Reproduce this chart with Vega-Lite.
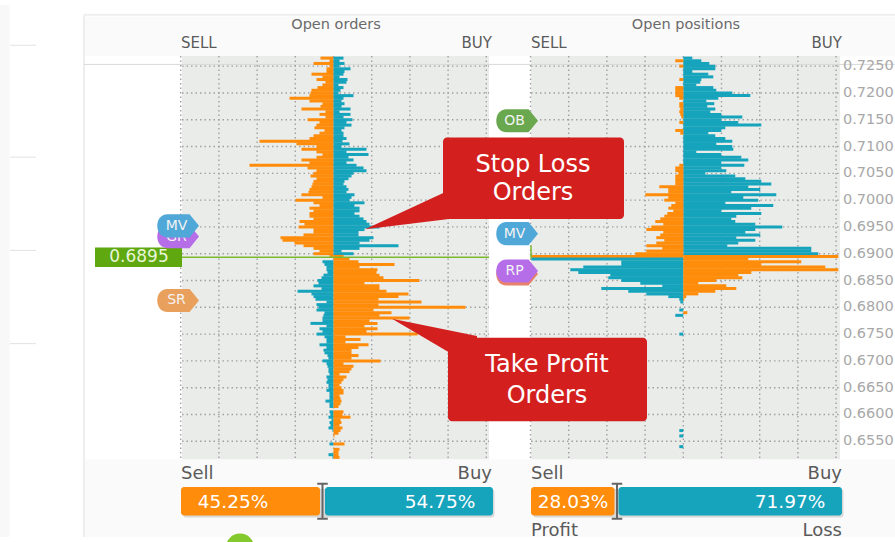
{"$schema":"https://vega.github.io/schema/vega-lite/v6.json","width":895,"height":542,"autosize":{"type":"none"},"padding":0,"background":"#ffffff","config":{"view":{"stroke":null},"axis":{"disable":true},"text":{"font":"DejaVu Sans"}},
"data":{"values":[{"note":"frame"}]},
"datasets":{
"levels":[{"price":0.725,"label":"0.7250"},{"price":0.72,"label":"0.7200"},{"price":0.715,"label":"0.7150"},{"price":0.71,"label":"0.7100"},{"price":0.705,"label":"0.7050"},{"price":0.7,"label":"0.7000"},{"price":0.695,"label":"0.6950"},{"price":0.69,"label":"0.6900"},{"price":0.685,"label":"0.6850"},{"price":0.68,"label":"0.6800"},{"price":0.675,"label":"0.6750"},{"price":0.67,"label":"0.6700"},{"price":0.665,"label":"0.6650"},{"price":0.66,"label":"0.6600"},{"price":0.655,"label":"0.6550"}],
"ticks":[{"lots":-152.8},{"lots":-114.6},{"lots":-76.4},{"lots":-38.2},{"lots":0},{"lots":38.2},{"lots":76.4},{"lots":114.6},{"lots":152.8}],
"orders":[
{"price":0.7265,"lots":-13,"type":"profit"},{"price":0.7265,"lots":10,"type":"loss"},{"price":0.726,"lots":-4,"type":"profit"},{"price":0.726,"lots":6,"type":"loss"},{"price":0.7255,"lots":-20,"type":"profit"},{"price":0.7255,"lots":11,"type":"loss"},{"price":0.725,"lots":-4,"type":"profit"},{"price":0.725,"lots":6,"type":"loss"},{"price":0.7245,"lots":-7,"type":"profit"},{"price":0.7245,"lots":17,"type":"loss"},{"price":0.724,"lots":-7,"type":"profit"},{"price":0.724,"lots":11,"type":"loss"},{"price":0.7235,"lots":-22,"type":"profit"},{"price":0.7235,"lots":10,"type":"loss"},{"price":0.723,"lots":-11,"type":"profit"},{"price":0.723,"lots":6,"type":"loss"},{"price":0.7225,"lots":-17,"type":"profit"},{"price":0.7225,"lots":14,"type":"loss"},{"price":0.722,"lots":-8,"type":"profit"},{"price":0.722,"lots":13,"type":"loss"},{"price":0.7215,"lots":-11,"type":"profit"},{"price":0.7215,"lots":5,"type":"loss"},{"price":0.721,"lots":-16,"type":"profit"},{"price":0.721,"lots":10,"type":"loss"},{"price":0.7205,"lots":-22,"type":"profit"},{"price":0.7205,"lots":7,"type":"loss"},{"price":0.72,"lots":-23,"type":"profit"},{"price":0.72,"lots":5,"type":"loss"},{"price":0.7195,"lots":-24,"type":"profit"},{"price":0.7195,"lots":20,"type":"loss"},{"price":0.719,"lots":-44,"type":"profit"},{"price":0.719,"lots":10,"type":"loss"},{"price":0.7185,"lots":-24,"type":"profit"},{"price":0.7185,"lots":8,"type":"loss"},{"price":0.718,"lots":-11,"type":"profit"},{"price":0.718,"lots":11,"type":"loss"},{"price":0.7175,"lots":-13,"type":"profit"},{"price":0.7175,"lots":8,"type":"loss"},{"price":0.717,"lots":-32,"type":"profit"},{"price":0.717,"lots":17,"type":"loss"},{"price":0.7165,"lots":-8,"type":"profit"},{"price":0.7165,"lots":6,"type":"loss"},{"price":0.716,"lots":-14,"type":"profit"},{"price":0.716,"lots":17,"type":"loss"},{"price":0.7155,"lots":-8,"type":"profit"},{"price":0.7155,"lots":10,"type":"loss"},{"price":0.715,"lots":-26,"type":"profit"},{"price":0.715,"lots":19,"type":"loss"},{"price":0.7145,"lots":-14,"type":"profit"},{"price":0.7145,"lots":13,"type":"loss"},{"price":0.714,"lots":-17,"type":"profit"},{"price":0.714,"lots":18,"type":"loss"},{"price":0.7135,"lots":-19,"type":"profit"},{"price":0.7135,"lots":11,"type":"loss"},{"price":0.713,"lots":-9,"type":"profit"},{"price":0.713,"lots":8,"type":"loss"},{"price":0.7125,"lots":-14,"type":"profit"},{"price":0.7125,"lots":10,"type":"loss"},{"price":0.712,"lots":-20,"type":"profit"},{"price":0.712,"lots":10,"type":"loss"},{"price":0.7115,"lots":-24,"type":"profit"},{"price":0.7115,"lots":13,"type":"loss"},{"price":0.711,"lots":-74,"type":"profit"},{"price":0.711,"lots":9,"type":"loss"},{"price":0.7105,"lots":-37,"type":"profit"},{"price":0.7105,"lots":16,"type":"loss"},{"price":0.71,"lots":-17,"type":"profit"},{"price":0.71,"lots":8,"type":"loss"},{"price":0.7095,"lots":-32,"type":"profit"},{"price":0.7095,"lots":33,"type":"loss"},{"price":0.709,"lots":-17,"type":"profit"},{"price":0.709,"lots":13,"type":"loss"},{"price":0.7085,"lots":-11,"type":"profit"},{"price":0.7085,"lots":35,"type":"loss"},{"price":0.708,"lots":-17,"type":"profit"},{"price":0.708,"lots":15,"type":"loss"},{"price":0.7075,"lots":-32,"type":"profit"},{"price":0.7075,"lots":20,"type":"loss"},{"price":0.707,"lots":-24,"type":"profit"},{"price":0.707,"lots":13,"type":"loss"},{"price":0.7065,"lots":-84,"type":"profit"},{"price":0.7065,"lots":23,"type":"loss"},{"price":0.706,"lots":-26,"type":"profit"},{"price":0.706,"lots":30,"type":"loss"},{"price":0.7055,"lots":-17,"type":"profit"},{"price":0.7055,"lots":33,"type":"loss"},{"price":0.705,"lots":-20,"type":"profit"},{"price":0.705,"lots":20,"type":"loss"},{"price":0.7045,"lots":-23,"type":"profit"},{"price":0.7045,"lots":18,"type":"loss"},{"price":0.704,"lots":-17,"type":"profit"},{"price":0.704,"lots":15,"type":"loss"},{"price":0.7035,"lots":-20,"type":"profit"},{"price":0.7035,"lots":11,"type":"loss"},{"price":0.703,"lots":-21,"type":"profit"},{"price":0.703,"lots":10,"type":"loss"},{"price":0.7025,"lots":-22,"type":"profit"},{"price":0.7025,"lots":13,"type":"loss"},{"price":0.702,"lots":-24,"type":"profit"},{"price":0.702,"lots":15,"type":"loss"},{"price":0.7015,"lots":-25,"type":"profit"},{"price":0.7015,"lots":13,"type":"loss"},{"price":0.701,"lots":-32,"type":"profit"},{"price":0.701,"lots":21,"type":"loss"},{"price":0.7005,"lots":-11,"type":"profit"},{"price":0.7005,"lots":18,"type":"loss"},{"price":0.7,"lots":-38,"type":"profit"},{"price":0.7,"lots":16,"type":"loss"},{"price":0.6995,"lots":-20,"type":"profit"},{"price":0.6995,"lots":31,"type":"loss"},{"price":0.699,"lots":-14,"type":"profit"},{"price":0.699,"lots":21,"type":"loss"},{"price":0.6985,"lots":-24,"type":"profit"},{"price":0.6985,"lots":26,"type":"loss"},{"price":0.698,"lots":-20,"type":"profit"},{"price":0.698,"lots":26,"type":"loss"},{"price":0.6975,"lots":-24,"type":"profit"},{"price":0.6975,"lots":21,"type":"loss"},{"price":0.697,"lots":-24,"type":"profit"},{"price":0.697,"lots":26,"type":"loss"},{"price":0.6965,"lots":-20,"type":"profit"},{"price":0.6965,"lots":30,"type":"loss"},{"price":0.696,"lots":-34,"type":"profit"},{"price":0.696,"lots":33,"type":"loss"},{"price":0.6955,"lots":-29,"type":"profit"},{"price":0.6955,"lots":36,"type":"loss"},{"price":0.695,"lots":-35,"type":"profit"},{"price":0.695,"lots":46,"type":"loss"},{"price":0.6945,"lots":-20,"type":"profit"},{"price":0.6945,"lots":31,"type":"loss"},{"price":0.694,"lots":-20,"type":"profit"},{"price":0.694,"lots":25,"type":"loss"},{"price":0.6935,"lots":-30,"type":"profit"},{"price":0.6935,"lots":25,"type":"loss"},{"price":0.693,"lots":-53,"type":"profit"},{"price":0.693,"lots":40,"type":"loss"},{"price":0.6925,"lots":-51,"type":"profit"},{"price":0.6925,"lots":36,"type":"loss"},{"price":0.692,"lots":-39,"type":"profit"},{"price":0.692,"lots":26,"type":"loss"},{"price":0.6915,"lots":-30,"type":"profit"},{"price":0.6915,"lots":65,"type":"loss"},{"price":0.691,"lots":-20,"type":"profit"},{"price":0.691,"lots":26,"type":"loss"},{"price":0.6905,"lots":-14,"type":"profit"},{"price":0.6905,"lots":8,"type":"loss"},{"price":0.69,"lots":-20,"type":"profit"},{"price":0.69,"lots":20,"type":"loss"},{"price":0.6895,"lots":-4,"type":"profit"},{"price":0.6895,"lots":10,"type":"profit"},
{"price":0.689,"lots":16,"type":"profit"},{"price":0.6885,"lots":-11,"type":"loss"},{"price":0.6885,"lots":25,"type":"profit"},{"price":0.688,"lots":-9,"type":"loss"},{"price":0.688,"lots":61,"type":"profit"},{"price":0.6875,"lots":-7,"type":"loss"},{"price":0.6875,"lots":26,"type":"profit"},{"price":0.687,"lots":-7,"type":"loss"},{"price":0.687,"lots":44,"type":"profit"},{"price":0.6865,"lots":-6,"type":"loss"},{"price":0.6865,"lots":43,"type":"profit"},{"price":0.686,"lots":-10,"type":"loss"},{"price":0.686,"lots":46,"type":"profit"},{"price":0.6855,"lots":-12,"type":"loss"},{"price":0.6855,"lots":50,"type":"profit"},{"price":0.685,"lots":-16,"type":"loss"},{"price":0.685,"lots":86,"type":"profit"},{"price":0.6845,"lots":-15,"type":"loss"},{"price":0.6845,"lots":31,"type":"profit"},{"price":0.684,"lots":-20,"type":"loss"},{"price":0.684,"lots":46,"type":"profit"},{"price":0.6835,"lots":-12,"type":"loss"},{"price":0.6835,"lots":46,"type":"profit"},{"price":0.683,"lots":-36,"type":"loss"},{"price":0.683,"lots":53,"type":"profit"},{"price":0.6825,"lots":-22,"type":"loss"},{"price":0.6825,"lots":75,"type":"profit"},{"price":0.682,"lots":-20,"type":"loss"},{"price":0.682,"lots":65,"type":"profit"},{"price":0.6815,"lots":-18,"type":"loss"},{"price":0.6815,"lots":45,"type":"profit"},{"price":0.681,"lots":-7,"type":"loss"},{"price":0.681,"lots":88,"type":"profit"},{"price":0.6805,"lots":-17,"type":"loss"},{"price":0.6805,"lots":45,"type":"profit"},{"price":0.68,"lots":-15,"type":"loss"},{"price":0.68,"lots":132,"type":"profit"},{"price":0.6795,"lots":-17,"type":"loss"},{"price":0.6795,"lots":40,"type":"profit"},{"price":0.679,"lots":-9,"type":"loss"},{"price":0.679,"lots":58,"type":"profit"},{"price":0.6785,"lots":-10,"type":"loss"},{"price":0.6785,"lots":46,"type":"profit"},{"price":0.678,"lots":-11,"type":"loss"},{"price":0.678,"lots":76,"type":"profit"},{"price":0.6775,"lots":-11,"type":"loss"},{"price":0.6775,"lots":36,"type":"profit"},{"price":0.677,"lots":-23,"type":"loss"},{"price":0.677,"lots":44,"type":"profit"},{"price":0.6765,"lots":-7,"type":"loss"},{"price":0.6765,"lots":31,"type":"profit"},{"price":0.676,"lots":-14,"type":"loss"},{"price":0.676,"lots":44,"type":"profit"},{"price":0.6755,"lots":-11,"type":"loss"},{"price":0.6755,"lots":33,"type":"profit"},{"price":0.675,"lots":-17,"type":"loss"},{"price":0.675,"lots":84,"type":"profit"},{"price":0.6745,"lots":-9,"type":"loss"},{"price":0.6745,"lots":12,"type":"profit"},{"price":0.674,"lots":-7,"type":"loss"},{"price":0.674,"lots":27,"type":"profit"},{"price":0.6735,"lots":-7,"type":"loss"},{"price":0.6735,"lots":12,"type":"profit"},{"price":0.673,"lots":-14,"type":"loss"},{"price":0.673,"lots":35,"type":"profit"},{"price":0.6725,"lots":-7,"type":"loss"},{"price":0.6725,"lots":25,"type":"profit"},{"price":0.672,"lots":-10,"type":"loss"},{"price":0.672,"lots":18,"type":"profit"},{"price":0.6715,"lots":-9,"type":"loss"},{"price":0.6715,"lots":18,"type":"profit"},{"price":0.671,"lots":-6,"type":"loss"},{"price":0.671,"lots":25,"type":"profit"},{"price":0.6705,"lots":-5,"type":"loss"},{"price":0.6705,"lots":18,"type":"profit"},{"price":0.67,"lots":-11,"type":"loss"},{"price":0.67,"lots":47,"type":"profit"},{"price":0.6695,"lots":-7,"type":"loss"},{"price":0.6695,"lots":10,"type":"profit"},{"price":0.669,"lots":-6,"type":"loss"},{"price":0.669,"lots":20,"type":"profit"},{"price":0.6685,"lots":-5,"type":"loss"},{"price":0.6685,"lots":18,"type":"profit"},{"price":0.668,"lots":-5,"type":"loss"},{"price":0.668,"lots":16,"type":"profit"},{"price":0.6675,"lots":-4,"type":"loss"},{"price":0.6675,"lots":6,"type":"profit"},{"price":0.667,"lots":-7,"type":"loss"},{"price":0.667,"lots":13,"type":"profit"},{"price":0.6665,"lots":-6,"type":"loss"},{"price":0.6665,"lots":10,"type":"profit"},{"price":0.666,"lots":-7,"type":"loss"},{"price":0.666,"lots":8,"type":"profit"},{"price":0.6655,"lots":-5,"type":"loss"},{"price":0.6655,"lots":6,"type":"profit"},{"price":0.665,"lots":-5,"type":"loss"},{"price":0.665,"lots":8,"type":"profit"},{"price":0.6645,"lots":-7,"type":"loss"},{"price":0.6645,"lots":10,"type":"profit"},{"price":0.664,"lots":-4,"type":"loss"},{"price":0.664,"lots":10,"type":"profit"},{"price":0.6635,"lots":-4,"type":"loss"},{"price":0.6635,"lots":6,"type":"profit"},{"price":0.663,"lots":-4,"type":"loss"},{"price":0.663,"lots":7,"type":"profit"},{"price":0.6625,"lots":-8,"type":"loss"},{"price":0.6625,"lots":8,"type":"profit"},{"price":0.662,"lots":-4,"type":"loss"},{"price":0.662,"lots":7,"type":"profit"},{"price":0.6615,"lots":-4,"type":"loss"},{"price":0.6615,"lots":5,"type":"profit"},{"price":0.6605,"lots":-4,"type":"loss"},{"price":0.6605,"lots":10,"type":"profit"},{"price":0.66,"lots":-3,"type":"loss"},{"price":0.66,"lots":9,"type":"profit"},{"price":0.6595,"lots":-5,"type":"loss"},{"price":0.6595,"lots":17,"type":"profit"},{"price":0.659,"lots":-2,"type":"loss"},{"price":0.659,"lots":7,"type":"profit"},{"price":0.6585,"lots":-4,"type":"loss"},{"price":0.6585,"lots":8,"type":"profit"},{"price":0.658,"lots":-3,"type":"loss"},{"price":0.658,"lots":6,"type":"profit"},{"price":0.6575,"lots":-5,"type":"loss"},{"price":0.6575,"lots":9,"type":"profit"},{"price":0.657,"lots":-1,"type":"loss"},{"price":0.657,"lots":7,"type":"profit"},{"price":0.6565,"lots":5,"type":"profit"},{"price":0.656,"lots":1,"type":"profit"},{"price":0.6545,"lots":-4,"type":"loss"},{"price":0.6545,"lots":11,"type":"profit"},{"price":0.6535,"lots":6,"type":"profit"},{"price":0.653,"lots":5,"type":"profit"},{"price":0.6525,"lots":-5,"type":"loss"},{"price":0.6525,"lots":5,"type":"profit"},{"price":0.652,"lots":-1,"type":"loss"},{"price":0.652,"lots":6,"type":"profit"}],
"positions":[
{"price":0.7265,"lots":9,"type":"loss"},{"price":0.726,"lots":18,"type":"loss"},{"price":0.7255,"lots":26,"type":"loss"},{"price":0.725,"lots":32,"type":"loss"},{"price":0.7245,"lots":32,"type":"loss"},{"price":0.724,"lots":9,"type":"loss"},{"price":0.7235,"lots":25,"type":"loss"},{"price":0.723,"lots":30,"type":"loss"},{"price":0.7225,"lots":18,"type":"loss"},{"price":0.722,"lots":17,"type":"loss"},{"price":0.7215,"lots":13,"type":"loss"},{"price":0.721,"lots":30,"type":"loss"},{"price":0.7205,"lots":33,"type":"loss"},{"price":0.72,"lots":49,"type":"loss"},{"price":0.7195,"lots":67,"type":"loss"},{"price":0.719,"lots":35,"type":"loss"},{"price":0.7185,"lots":23,"type":"loss"},{"price":0.718,"lots":31,"type":"loss"},{"price":0.7175,"lots":24,"type":"loss"},{"price":0.717,"lots":32,"type":"loss"},{"price":0.7165,"lots":27,"type":"loss"},{"price":0.716,"lots":38,"type":"loss"},{"price":0.7155,"lots":59,"type":"loss"},{"price":0.715,"lots":38,"type":"loss"},{"price":0.7145,"lots":55,"type":"loss"},{"price":0.714,"lots":78,"type":"loss"},{"price":0.7135,"lots":42,"type":"loss"},{"price":0.713,"lots":38,"type":"loss"},{"price":0.7125,"lots":25,"type":"loss"},{"price":0.712,"lots":32,"type":"loss"},{"price":0.7115,"lots":42,"type":"loss"},{"price":0.711,"lots":49,"type":"loss"},{"price":0.7105,"lots":33,"type":"loss"},{"price":0.71,"lots":49,"type":"loss"},{"price":0.7095,"lots":50,"type":"loss"},{"price":0.709,"lots":13,"type":"loss"},{"price":0.7085,"lots":38,"type":"loss"},{"price":0.708,"lots":58,"type":"loss"},{"price":0.7075,"lots":65,"type":"loss"},{"price":0.707,"lots":38,"type":"loss"},{"price":0.7065,"lots":61,"type":"loss"},{"price":0.706,"lots":38,"type":"loss"},{"price":0.7055,"lots":43,"type":"loss"},{"price":0.705,"lots":22,"type":"loss"},{"price":0.7045,"lots":52,"type":"loss"},{"price":0.704,"lots":62,"type":"loss"},{"price":0.7035,"lots":78,"type":"loss"},{"price":0.703,"lots":88,"type":"loss"},{"price":0.7025,"lots":65,"type":"loss"},{"price":0.702,"lots":77,"type":"loss"},{"price":0.7015,"lots":48,"type":"loss"},{"price":0.701,"lots":93,"type":"loss"},{"price":0.7005,"lots":60,"type":"loss"},{"price":0.7,"lots":75,"type":"loss"},{"price":0.6995,"lots":42,"type":"loss"},{"price":0.699,"lots":90,"type":"loss"},{"price":0.6985,"lots":68,"type":"loss"},{"price":0.698,"lots":38,"type":"loss"},{"price":0.6975,"lots":78,"type":"loss"},{"price":0.697,"lots":53,"type":"loss"},{"price":0.6965,"lots":48,"type":"loss"},{"price":0.696,"lots":52,"type":"loss"},{"price":0.6955,"lots":72,"type":"loss"},{"price":0.695,"lots":99,"type":"loss"},{"price":0.6945,"lots":72,"type":"loss"},{"price":0.694,"lots":62,"type":"loss"},{"price":0.6935,"lots":77,"type":"loss"},{"price":0.693,"lots":53,"type":"loss"},{"price":0.6925,"lots":72,"type":"loss"},{"price":0.692,"lots":55,"type":"loss"},{"price":0.6915,"lots":44,"type":"loss"},{"price":0.691,"lots":128,"type":"loss"},{"price":0.6905,"lots":128,"type":"loss"},{"price":0.69,"lots":135,"type":"loss"},
{"price":0.726,"lots":-8,"type":"profit"},{"price":0.725,"lots":-4,"type":"profit"},{"price":0.7225,"lots":-4,"type":"profit"},{"price":0.721,"lots":-8,"type":"profit"},{"price":0.7205,"lots":-8,"type":"profit"},{"price":0.72,"lots":-8,"type":"profit"},{"price":0.7195,"lots":-8,"type":"profit"},{"price":0.719,"lots":-4,"type":"profit"},{"price":0.718,"lots":-4,"type":"profit"},{"price":0.7175,"lots":-4,"type":"profit"},{"price":0.717,"lots":-3,"type":"profit"},{"price":0.7165,"lots":-4,"type":"profit"},{"price":0.716,"lots":-3,"type":"profit"},{"price":0.7155,"lots":-2,"type":"profit"},{"price":0.7145,"lots":-4,"type":"profit"},{"price":0.713,"lots":-8,"type":"profit"},{"price":0.7125,"lots":-3,"type":"profit"},{"price":0.7065,"lots":-4,"type":"profit"},{"price":0.706,"lots":-8,"type":"profit"},{"price":0.7055,"lots":-8,"type":"profit"},{"price":0.705,"lots":-5,"type":"profit"},{"price":0.7045,"lots":-8,"type":"profit"},{"price":0.704,"lots":-8,"type":"profit"},{"price":0.7035,"lots":-8,"type":"profit"},{"price":0.703,"lots":-8,"type":"profit"},{"price":0.7025,"lots":-24,"type":"profit"},{"price":0.702,"lots":-15,"type":"profit"},{"price":0.7015,"lots":-15,"type":"profit"},{"price":0.701,"lots":-38,"type":"profit"},{"price":0.7005,"lots":-15,"type":"profit"},{"price":0.7,"lots":-19,"type":"profit"},{"price":0.6995,"lots":-8,"type":"profit"},{"price":0.699,"lots":-12,"type":"profit"},{"price":0.6985,"lots":-15,"type":"profit"},{"price":0.698,"lots":-10,"type":"profit"},{"price":0.6975,"lots":-16,"type":"profit"},{"price":0.697,"lots":-19,"type":"profit"},{"price":0.6965,"lots":-23,"type":"profit"},{"price":0.696,"lots":-28,"type":"profit"},{"price":0.6955,"lots":-20,"type":"profit"},{"price":0.695,"lots":-32,"type":"profit"},{"price":0.6945,"lots":-37,"type":"profit"},{"price":0.694,"lots":-20,"type":"profit"},{"price":0.6935,"lots":-23,"type":"profit"},{"price":0.693,"lots":-27,"type":"profit"},{"price":0.6925,"lots":-19,"type":"profit"},{"price":0.692,"lots":-27,"type":"profit"},{"price":0.6915,"lots":-37,"type":"profit"},{"price":0.691,"lots":-21,"type":"profit"},{"price":0.6905,"lots":-37,"type":"profit"},{"price":0.69,"lots":-48,"type":"profit"},{"price":0.6895,"lots":-152,"type":"profit"},{"price":0.6895,"lots":155,"type":"profit"},
{"price":0.689,"lots":-152,"type":"loss"},{"price":0.689,"lots":65,"type":"profit"},{"price":0.6885,"lots":-62,"type":"loss"},{"price":0.6885,"lots":118,"type":"profit"},{"price":0.688,"lots":-62,"type":"loss"},{"price":0.688,"lots":78,"type":"profit"},{"price":0.6875,"lots":-100,"type":"loss"},{"price":0.6875,"lots":142,"type":"profit"},{"price":0.687,"lots":-113,"type":"loss"},{"price":0.687,"lots":155,"type":"profit"},{"price":0.6865,"lots":-105,"type":"loss"},{"price":0.6865,"lots":68,"type":"profit"},{"price":0.686,"lots":-73,"type":"loss"},{"price":0.686,"lots":55,"type":"profit"},{"price":0.6855,"lots":-75,"type":"loss"},{"price":0.6855,"lots":59,"type":"profit"},{"price":0.685,"lots":-62,"type":"loss"},{"price":0.685,"lots":33,"type":"profit"},{"price":0.6845,"lots":-43,"type":"loss"},{"price":0.6845,"lots":15,"type":"profit"},{"price":0.684,"lots":-21,"type":"loss"},{"price":0.684,"lots":43,"type":"profit"},{"price":0.6835,"lots":-82,"type":"loss"},{"price":0.6835,"lots":53,"type":"profit"},{"price":0.683,"lots":-55,"type":"loss"},{"price":0.683,"lots":32,"type":"profit"},{"price":0.6825,"lots":-37,"type":"loss"},{"price":0.6825,"lots":15,"type":"profit"},{"price":0.682,"lots":-15,"type":"loss"},{"price":0.682,"lots":3,"type":"profit"},{"price":0.6815,"lots":-4,"type":"loss"},{"price":0.6815,"lots":1,"type":"profit"},{"price":0.681,"lots":-3,"type":"loss"},{"price":0.6795,"lots":-4,"type":"loss"},{"price":0.679,"lots":4,"type":"profit"},{"price":0.6785,"lots":-8,"type":"loss"},{"price":0.675,"lots":-4,"type":"loss"},{"price":0.657,"lots":-4,"type":"loss"},{"price":0.656,"lots":-4,"type":"loss"},{"price":0.654,"lots":-4,"type":"loss"}]
},
"resolve":{"scale":{"x":"independent"}},
"layer":[
{"layer":[
{"mark":{"type":"rect","color":"#ffffff"},"encoding":{"x":{"datum":-249.5,"type":"quantitative","scale":{"domain":[-333.5,561.5],"nice":false,"zero":false}},"x2":{"datum":561.5},"y":{"datum":0.73458,"type":"quantitative","scale":{"domain":[0.63714,0.73641],"nice":false,"zero":false}},"y2":{"datum":0.63714}}},
{"mark":{"type":"rect","color":"#f8f8f8"},"encoding":{"x":{"datum":-333.5,"type":"quantitative"},"x2":{"datum":-324},"y":{"datum":0.73641,"type":"quantitative"},"y2":{"datum":0.63714}}},
{"mark":{"type":"rect","color":"#eeeeee"},"encoding":{"x":{"datum":-250.5,"type":"quantitative"},"x2":{"datum":-248.5},"y":{"datum":0.73458,"type":"quantitative"},"y2":{"datum":0.63714}}},
{"mark":{"type":"rule","color":"#eeeeee","strokeWidth":2},"encoding":{"x":{"datum":-249.5,"type":"quantitative"},"x2":{"datum":561.5},"y":{"datum":0.73458,"type":"quantitative"}}},
{"mark":{"type":"rule","color":"#e2e2e2"},"encoding":{"x":{"datum":-323.5,"type":"quantitative"},"x2":{"datum":-297.5},"y":{"datum":0.7289,"type":"quantitative"}}},
{"mark":{"type":"rule","color":"#e2e2e2"},"encoding":{"x":{"datum":-323.5,"type":"quantitative"},"x2":{"datum":-297.5},"y":{"datum":0.70802,"type":"quantitative"}}},
{"mark":{"type":"rule","color":"#e2e2e2"},"encoding":{"x":{"datum":-323.5,"type":"quantitative"},"x2":{"datum":-297.5},"y":{"datum":0.69062,"type":"quantitative"}}},
{"mark":{"type":"rule","color":"#e2e2e2"},"encoding":{"x":{"datum":-323.5,"type":"quantitative"},"x2":{"datum":-297.5},"y":{"datum":0.67322,"type":"quantitative"}}},
{"mark":{"type":"rect","color":"#eaecea"},"encoding":{"x":{"datum":-151.5,"type":"quantitative"},"x2":{"datum":155.5},"y":{"datum":0.72689,"type":"quantitative"},"y2":{"datum":0.65161}}},
{"mark":{"type":"rect","color":"#eaecea"},"encoding":{"x":{"datum":197.5,"type":"quantitative"},"x2":{"datum":506.5},"y":{"datum":0.72689,"type":"quantitative"},"y2":{"datum":0.65161}}},
{"mark":{"type":"rule","color":"#d8d8d8"},"encoding":{"x":{"datum":-249.5,"type":"quantitative"},"x2":{"datum":561.5},"y":{"datum":0.72533,"type":"quantitative"}}},
{"data":{"name":"ticks"},"mark":{"type":"rule","color":"#a0a0a0","strokeWidth":1.4,"strokeDash":[1.5,3]},"encoding":{"x":{"field":"lots","type":"quantitative"},"y":{"datum":0.72689,"type":"quantitative"},"y2":{"datum":0.65161}}},
{"data":{"name":"levels"},"mark":{"type":"rule","color":"#a0a0a0","strokeWidth":1.4,"strokeDash":[1.5,3]},"encoding":{"y":{"field":"price","type":"quantitative"},"x":{"datum":-151.5,"type":"quantitative"},"x2":{"datum":155.5}}},
{"data":{"name":"orders"},"mark":{"type":"bar","orient":"horizontal","size":3},"encoding":{"y":{"field":"price","type":"quantitative"},"x":{"field":"lots","type":"quantitative","stack":null},"color":{"field":"type","type":"nominal","legend":null,"scale":{"domain":["profit","loss"],"range":["#ff8c0a","#16a3bc"]}}}},
{"mark":{"type":"rule","color":"#7cb82f","strokeWidth":1.5},"encoding":{"x":{"datum":-151.5,"type":"quantitative"},"x2":{"datum":155.5},"y":{"datum":0.68934,"type":"quantitative"}}}
]},
{"layer":[
{"data":{"name":"ticks"},"mark":{"type":"rule","color":"#a0a0a0","strokeWidth":1.4,"strokeDash":[1.5,3]},"encoding":{"x":{"field":"lots","type":"quantitative","scale":{"domain":[-683.3,211.7],"nice":false,"zero":false}},"y":{"datum":0.72689,"type":"quantitative"},"y2":{"datum":0.65161}}},
{"data":{"name":"levels"},"mark":{"type":"rule","color":"#a0a0a0","strokeWidth":1.4,"strokeDash":[1.5,3]},"encoding":{"y":{"field":"price","type":"quantitative"},"x":{"datum":-152.3,"type":"quantitative"},"x2":{"datum":156.7}}},
{"data":{"name":"positions"},"mark":{"type":"bar","orient":"horizontal","size":3},"encoding":{"y":{"field":"price","type":"quantitative"},"x":{"field":"lots","type":"quantitative","stack":null},"color":{"field":"type","type":"nominal","legend":null,"scale":{"domain":["profit","loss"],"range":["#ff8c0a","#16a3bc"]}}}},
{"mark":{"type":"rule","color":"#7cb82f","strokeWidth":1.5},"encoding":{"x":{"datum":-152.3,"type":"quantitative"},"y":{"datum":0.69154,"type":"quantitative"},"y2":{"datum":0.6891}}},
{"data":{"name":"levels"},"mark":{"type":"text","align":"left","baseline":"middle","fontSize":14.5,"color":"#a8a8a8"},"encoding":{"y":{"field":"price","type":"quantitative"},"x":{"datum":159.7,"type":"quantitative"},"text":{"field":"label"}}},
{"mark":{"type":"text","align":"left","baseline":"middle","fontSize":14.5,"color":"#a8a8a8","text":"0.7300"},"encoding":{"y":{"datum":0.7278,"type":"quantitative"},"x":{"datum":159.7,"type":"quantitative"}}}
]},
{"layer":[
{"mark":{"type":"rect","color":"#fafafa"},"encoding":{"x":{"datum":-248.5,"type":"quantitative","scale":{"domain":[-333.5,561.5],"nice":false,"zero":false}},"x2":{"datum":561.5},"y":{"datum":0.73421,"type":"quantitative"},"y2":{"datum":0.72689}}},
{"mark":{"type":"rect","color":"#fafafa"},"encoding":{"x":{"datum":-248.5,"type":"quantitative"},"x2":{"datum":561.5},"y":{"datum":0.65161,"type":"quantitative"},"y2":{"datum":0.63714}}},
{"mark":{"type":"text","align":"center","baseline":"middle","fontSize":14.5,"color":"#6a6a6a","text":"Open orders"},"encoding":{"x":{"datum":2.5,"type":"quantitative"},"y":{"datum":0.73275,"type":"quantitative"}}},
{"mark":{"type":"text","align":"center","baseline":"middle","fontSize":14.5,"color":"#6a6a6a","text":"Open positions"},"encoding":{"x":{"datum":352.5,"type":"quantitative"},"y":{"datum":0.73275,"type":"quantitative"}}},
{"mark":{"type":"text","align":"left","baseline":"middle","fontSize":15,"color":"#5a5a5a","text":"SELL"},"encoding":{"x":{"datum":-152.5,"type":"quantitative"},"y":{"datum":0.72927,"type":"quantitative"}}},
{"mark":{"type":"text","align":"right","baseline":"middle","fontSize":15,"color":"#5a5a5a","text":"BUY"},"encoding":{"x":{"datum":158.5,"type":"quantitative"},"y":{"datum":0.72927,"type":"quantitative"}}},
{"mark":{"type":"text","align":"left","baseline":"middle","fontSize":15,"color":"#5a5a5a","text":"SELL"},"encoding":{"x":{"datum":197.5,"type":"quantitative"},"y":{"datum":0.72927,"type":"quantitative"}}},
{"mark":{"type":"text","align":"right","baseline":"middle","fontSize":15,"color":"#5a5a5a","text":"BUY"},"encoding":{"x":{"datum":508.5,"type":"quantitative"},"y":{"datum":0.72927,"type":"quantitative"}}},
{"mark":{"type":"text","align":"left","baseline":"middle","fontSize":18,"color":"#5a5a5a","text":"Sell"},"encoding":{"x":{"datum":-152.5,"type":"quantitative"},"y":{"datum":0.64886,"type":"quantitative"}}},
{"mark":{"type":"text","align":"right","baseline":"middle","fontSize":18,"color":"#5a5a5a","text":"Buy"},"encoding":{"x":{"datum":158.5,"type":"quantitative"},"y":{"datum":0.64886,"type":"quantitative"}}},
{"mark":{"type":"text","align":"left","baseline":"middle","fontSize":18,"color":"#5a5a5a","text":"Sell"},"encoding":{"x":{"datum":197.5,"type":"quantitative"},"y":{"datum":0.64886,"type":"quantitative"}}},
{"mark":{"type":"text","align":"right","baseline":"middle","fontSize":18,"color":"#5a5a5a","text":"Buy"},"encoding":{"x":{"datum":508.5,"type":"quantitative"},"y":{"datum":0.64886,"type":"quantitative"}}},
{"mark":{"type":"text","align":"left","baseline":"middle","fontSize":18,"color":"#5a5a5a","text":"Profit"},"encoding":{"x":{"datum":197.5,"type":"quantitative"},"y":{"datum":0.63824,"type":"quantitative"}}},
{"mark":{"type":"text","align":"right","baseline":"middle","fontSize":18,"color":"#5a5a5a","text":"Loss"},"encoding":{"x":{"datum":508.5,"type":"quantitative"},"y":{"datum":0.63824,"type":"quantitative"}}},
{"mark":{"type":"rect","color":"#d8d8d8","cornerRadius":3},"encoding":{"x":{"datum":-150.5,"type":"quantitative"},"x2":{"datum":161},"y":{"datum":0.6461,"type":"quantitative"},"y2":{"datum":0.6408}}},
{"mark":{"type":"rect","color":"#d8d8d8","cornerRadius":3},"encoding":{"x":{"datum":199.5,"type":"quantitative"},"x2":{"datum":510},"y":{"datum":0.6461,"type":"quantitative"},"y2":{"datum":0.6408}}},
{"mark":{"type":"rect","color":"#ff8c0a","cornerRadius":3},"encoding":{"x":{"datum":-152.5,"type":"quantitative"},"x2":{"datum":-13.5},"y":{"datum":0.64648,"type":"quantitative"},"y2":{"datum":0.64117}}},
{"mark":{"type":"rect","color":"#16a3bc","cornerRadius":3},"encoding":{"x":{"datum":-8.5,"type":"quantitative"},"x2":{"datum":159.5},"y":{"datum":0.64648,"type":"quantitative"},"y2":{"datum":0.64117}}},
{"mark":{"type":"rect","color":"#ff8c0a","cornerRadius":3},"encoding":{"x":{"datum":197.5,"type":"quantitative"},"x2":{"datum":281},"y":{"datum":0.64648,"type":"quantitative"},"y2":{"datum":0.64117}}},
{"mark":{"type":"rect","color":"#16a3bc","cornerRadius":3},"encoding":{"x":{"datum":285,"type":"quantitative"},"x2":{"datum":508.5},"y":{"datum":0.64648,"type":"quantitative"},"y2":{"datum":0.64117}}},
{"mark":{"type":"text","align":"center","baseline":"middle","fontSize":18.5,"color":"#ffffff","text":"45.25%"},"encoding":{"x":{"datum":-100.5,"type":"quantitative"},"y":{"datum":0.64374,"type":"quantitative"}}},
{"mark":{"type":"text","align":"center","baseline":"middle","fontSize":18.5,"color":"#ffffff","text":"54.75%"},"encoding":{"x":{"datum":106.5,"type":"quantitative"},"y":{"datum":0.64374,"type":"quantitative"}}},
{"mark":{"type":"text","align":"center","baseline":"middle","fontSize":18.5,"color":"#ffffff","text":"28.03%"},"encoding":{"x":{"datum":239.5,"type":"quantitative"},"y":{"datum":0.64374,"type":"quantitative"}}},
{"mark":{"type":"text","align":"center","baseline":"middle","fontSize":18.5,"color":"#ffffff","text":"71.97%"},"encoding":{"x":{"datum":456.5,"type":"quantitative"},"y":{"datum":0.64374,"type":"quantitative"}}},
{"mark":{"type":"point","filled":false,"shape":"M-0.3,-1L0.3,-1M0,-1L0,1M-0.3,1L0.3,1","size":1225,"stroke":"#666666","strokeWidth":2,"opacity":1},"encoding":{"x":{"datum":-11,"type":"quantitative"},"y":{"datum":0.64383,"type":"quantitative"}}},
{"mark":{"type":"point","filled":false,"shape":"M-0.3,-1L0.3,-1M0,-1L0,1M-0.3,1L0.3,1","size":1225,"stroke":"#666666","strokeWidth":2,"opacity":1},"encoding":{"x":{"datum":283.5,"type":"quantitative"},"y":{"datum":0.64383,"type":"quantitative"}}},
{"mark":{"type":"point","filled":true,"size":800,"color":"#84c92e","opacity":1},"encoding":{"x":{"datum":-93.5,"type":"quantitative"},"y":{"datum":0.63513,"type":"quantitative"}}},
{"mark":{"type":"rect","color":"#5fa80f"},"encoding":{"x":{"datum":-238.5,"type":"quantitative"},"x2":{"datum":-151.5},"y":{"datum":0.69117,"type":"quantitative"},"y2":{"datum":0.68751}}},
{"mark":{"type":"text","align":"center","baseline":"middle","fontSize":17,"color":"#e8f5d8","text":"0.6895"},"encoding":{"x":{"datum":-194.5,"type":"quantitative"},"y":{"datum":0.68934,"type":"quantitative"}}},
{"mark":{"type":"point","filled":true,"size":1764,"opacity":1,"color":"#e9a05c","shape":"M-0.5,-0.55L0.55,-0.55L1,0L0.55,0.55L-0.5,0.55C-1.15,0.55 -1.15,-0.55 -0.5,-0.55Z"},"encoding":{"x":{"datum":-155.5,"type":"quantitative"},"y":{"datum":0.68128,"type":"quantitative"}}},
{"mark":{"type":"point","filled":true,"size":1764,"opacity":1,"color":"#b66de8","shape":"M-0.5,-0.55L0.55,-0.55L1,0L0.55,0.55L-0.5,0.55C-1.15,0.55 -1.15,-0.55 -0.5,-0.55Z"},"encoding":{"x":{"datum":-155.5,"type":"quantitative"},"y":{"datum":0.69319,"type":"quantitative"}}},
{"mark":{"type":"text","align":"center","baseline":"middle","fontSize":14,"color":"#f3f3f3","text":"GR"},"encoding":{"x":{"datum":-157,"type":"quantitative"},"y":{"datum":0.69319,"type":"quantitative"}}},
{"mark":{"type":"point","filled":true,"size":1764,"opacity":1,"color":"#4fa8d8","shape":"M-0.5,-0.55L0.55,-0.55L1,0L0.55,0.55L-0.5,0.55C-1.15,0.55 -1.15,-0.55 -0.5,-0.55Z"},"encoding":{"x":{"datum":-155.5,"type":"quantitative"},"y":{"datum":0.6952,"type":"quantitative"}}},
{"mark":{"type":"point","filled":true,"size":1764,"opacity":1,"color":"#6aa84f","shape":"M-0.5,-0.55L0.55,-0.55L1,0L0.55,0.55L-0.5,0.55C-1.15,0.55 -1.15,-0.55 -0.5,-0.55Z"},"encoding":{"x":{"datum":183.5,"type":"quantitative"},"y":{"datum":0.7148,"type":"quantitative"}}},
{"mark":{"type":"point","filled":true,"size":1764,"opacity":1,"color":"#4fa8d8","shape":"M-0.5,-0.55L0.55,-0.55L1,0L0.55,0.55L-0.5,0.55C-1.15,0.55 -1.15,-0.55 -0.5,-0.55Z"},"encoding":{"x":{"datum":183.5,"type":"quantitative"},"y":{"datum":0.69374,"type":"quantitative"}}},
{"mark":{"type":"point","filled":true,"size":1764,"opacity":1,"color":"#e8826a","shape":"M-0.5,-0.55L0.55,-0.55L1,0L0.55,0.55L-0.5,0.55C-1.15,0.55 -1.15,-0.55 -0.5,-0.55Z"},"encoding":{"x":{"datum":183.5,"type":"quantitative"},"y":{"datum":0.68623,"type":"quantitative"}}},
{"mark":{"type":"point","filled":true,"size":1764,"opacity":1,"color":"#b66de8","shape":"M-0.5,-0.55L0.55,-0.55L1,0L0.55,0.55L-0.5,0.55C-1.15,0.55 -1.15,-0.55 -0.5,-0.55Z"},"encoding":{"x":{"datum":183.5,"type":"quantitative"},"y":{"datum":0.68678,"type":"quantitative"}}},
{"mark":{"type":"text","align":"center","baseline":"middle","fontSize":14,"color":"#f3f3f3","text":"SR"},"encoding":{"x":{"datum":-157,"type":"quantitative"},"y":{"datum":0.68128,"type":"quantitative"}}},
{"mark":{"type":"text","align":"center","baseline":"middle","fontSize":14,"color":"#f3f3f3","text":"MV"},"encoding":{"x":{"datum":-157,"type":"quantitative"},"y":{"datum":0.6952,"type":"quantitative"}}},
{"mark":{"type":"text","align":"center","baseline":"middle","fontSize":14,"color":"#f3f3f3","text":"OB"},"encoding":{"x":{"datum":181,"type":"quantitative"},"y":{"datum":0.7148,"type":"quantitative"}}},
{"mark":{"type":"text","align":"center","baseline":"middle","fontSize":14,"color":"#f3f3f3","text":"MV"},"encoding":{"x":{"datum":181,"type":"quantitative"},"y":{"datum":0.69374,"type":"quantitative"}}},
{"mark":{"type":"text","align":"center","baseline":"middle","fontSize":14,"color":"#f3f3f3","text":"RP"},"encoding":{"x":{"datum":181,"type":"quantitative"},"y":{"datum":0.68678,"type":"quantitative"}}},
{"mark":{"type":"point","filled":true,"size":6400,"opacity":1,"color":"#d41f1f","shape":"M-1,0.575L1.05,-0.375L1.05,0.325Z"},"encoding":{"x":{"datum":71.5,"type":"quantitative"},"y":{"datum":0.69886,"type":"quantitative"}}},
{"mark":{"type":"point","filled":true,"size":8100,"opacity":1,"color":"#d41f1f","shape":"M-0.956,-0.333L0.933,0.05L0.933,0.45L0.289,0.4Z"},"encoding":{"x":{"datum":101.5,"type":"quantitative"},"y":{"datum":0.67505,"type":"quantitative"}}},
{"mark":{"type":"rect","color":"#d41f1f","cornerRadius":4},"encoding":{"x":{"datum":109.5,"type":"quantitative"},"x2":{"datum":290.5},"y":{"datum":0.71168,"type":"quantitative"},"y2":{"datum":0.69648}}},
{"mark":{"type":"rect","color":"#d41f1f","cornerRadius":4},"encoding":{"x":{"datum":114.5,"type":"quantitative"},"x2":{"datum":313.5},"y":{"datum":0.67432,"type":"quantitative"},"y2":{"datum":0.65876}}},
{"mark":{"type":"text","align":"center","baseline":"middle","fontSize":24,"color":"#ffffff","text":"Stop Loss"},"encoding":{"x":{"datum":199.5,"type":"quantitative"},"y":{"datum":0.70656,"type":"quantitative"}}},
{"mark":{"type":"text","align":"center","baseline":"middle","fontSize":24,"color":"#ffffff","text":"Orders"},"encoding":{"x":{"datum":199.5,"type":"quantitative"},"y":{"datum":0.70125,"type":"quantitative"}}},
{"mark":{"type":"text","align":"center","baseline":"middle","fontSize":24,"color":"#ffffff","text":"Take Profit"},"encoding":{"x":{"datum":213.5,"type":"quantitative"},"y":{"datum":0.66919,"type":"quantitative"}}},
{"mark":{"type":"text","align":"center","baseline":"middle","fontSize":24,"color":"#ffffff","text":"Orders"},"encoding":{"x":{"datum":213.5,"type":"quantitative"},"y":{"datum":0.66352,"type":"quantitative"}}}
]}
]}
